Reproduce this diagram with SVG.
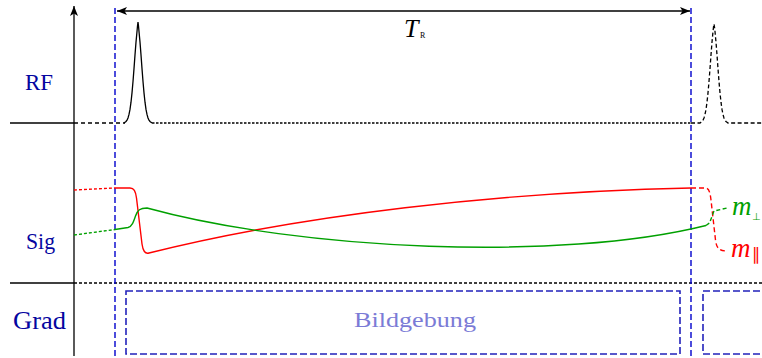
<svg xmlns="http://www.w3.org/2000/svg" width="762" height="358" viewBox="0 0 762 358">
<style>
.lbl{font-family:"Liberation Serif","DejaVu Serif",serif;fill:#0505a0}
.it{font-family:"Liberation Serif","DejaVu Serif",serif;font-style:italic}
.blk{fill:none;stroke:#000;stroke-width:1.3}
.vb{fill:none;stroke:#0000cc;stroke-width:1.4;stroke-dasharray:6,3}
.gr{fill:none;stroke:#2222bb;stroke-width:1.6;stroke-dasharray:7,3}
.red{fill:none;stroke:#ff0000;stroke-width:1.4}
.grn{fill:none;stroke:#00a000;stroke-width:1.4}
.bild{font-family:"Liberation Serif","DejaVu Serif",serif;fill:#7b7bd6}
.sym{font-family:"DejaVu Sans",sans-serif}
</style>
<defs>
<marker id="ah" viewBox="0 0 10 8" refX="10" refY="4" markerWidth="10" markerHeight="8" markerUnits="userSpaceOnUse" orient="auto-start-reverse">
<path d="M0,0 L10,4 L0,8 L2.5,4 Z" fill="#000"/>
</marker>
</defs>
<g id="labels">
<text class="lbl" x="25" y="90" font-size="23" textLength="28" lengthAdjust="spacingAndGlyphs">RF</text>
<text class="lbl" x="26" y="249" font-size="24" textLength="29" lengthAdjust="spacingAndGlyphs">Sig</text>
<text class="lbl" x="13" y="329" font-size="25" textLength="53" lengthAdjust="spacingAndGlyphs">Grad</text>
</g>
<g id="axis">
<line class="blk" x1="74" y1="356" x2="74" y2="6" marker-end="url(#ah)"/>
<line class="blk" x1="10" y1="123" x2="74" y2="123"/>
<line class="blk" x1="10" y1="283" x2="74" y2="283"/>
<line class="blk" x1="74" y1="283" x2="762" y2="283" stroke-dasharray="3,2"/>
</g>
<g id="tr">
<line class="blk" x1="117" y1="11" x2="690" y2="11" marker-start="url(#ah)" marker-end="url(#ah)"/>
<text class="it" x="404" y="37" font-size="26" fill="#000">T</text>
<text font-family="Liberation Serif,serif" x="420" y="38" font-size="8" fill="#000">R</text>
</g>
<g id="rf">
<line class="blk" x1="74" y1="123" x2="125" y2="123" stroke-dasharray="4,3"/>
<polyline class="blk" points="124,123 125,122.2 126,121.5 127,120.1 128,118 129,114.4 130,109.4 131,102.2 132,92.9 133,81.5 134,68.6 135,54.9 136,42.1 137,31.5 137.5,26 138,22 138.5,26 139,31.5 140,42.1 141,54.9 142,68.6 143,81.5 144,92.9 145,102.2 146,109.4 147,114.4 148,118 149,120.1 150,121.5 151,122.2 152,123"/>
<line class="blk" x1="152" y1="123" x2="691" y2="123" stroke-dasharray="2.5,1.5"/>
<polyline class="blk" stroke-dasharray="4,2.5" points="691,123 700,123 701,122.2 702,121.5 703,120.1 704,118 705,114.4 706,109.4 707,102.2 708,92.9 709,81.5 710,68.6 711,54.9 712,42.1 713,31.5 713.5,27 714,24 714.5,27 715,31.5 716,42.1 717,54.9 718,68.6 719,81.5 720,92.9 721,102.2 722,109.4 723,114.4 724,118 725,120.1 726,121.5 727,122.2 728,123 762,123"/>
</g>
<g id="vlines">
<line class="vb" x1="115" y1="8" x2="115" y2="358"/>
<line class="vb" x1="691" y1="8" x2="691" y2="358"/>
</g>
<g id="mpar">
<path class="red" d="M74,190 L115,188" stroke-dasharray="3,2"/>
<path class="red" d="M115,188 L130,188 C134,188 135.5,191 136.5,198 L142,244 C143,251 145,254 149,253 C300,215 500,192 691,188"/>
<path class="red" d="M691,188 L705,188 C709,188 710,192 711,200 L715.5,240 C716.5,248 719,251 727,251" stroke-dasharray="5,3"/>
<text class="it" x="731" y="257" font-size="27" fill="#ff0000">m</text>
<text class="sym" x="752" y="260" font-size="17" fill="#ff0000">∥</text>
</g>
<g id="mperp">
<path class="grn" d="M74,235 L115,229.5" stroke-dasharray="3,2"/>
<path class="grn" d="M115,229.5 L128,227.5 C132,226.5 133.5,222 135.5,216 C137.5,210 140,208 147,208 C300,250 560,262 706,225.5"/>
<path class="grn" d="M706,225.5 L709.5,223 L714,211 L727,208" stroke-dasharray="4,2.5"/>
<text class="it" x="732" y="215" font-size="27" fill="#00a000">m</text>
<text class="sym" x="752" y="220" font-size="10" fill="#00a000">⊥</text>
</g>
<g id="grad">
<rect class="gr" x="126" y="291" width="554" height="63"/>
<path class="gr" d="M770,291 L703,291 L703,354 L770,354"/>
<text class="bild" x="354" y="327" font-size="22" textLength="122" lengthAdjust="spacingAndGlyphs">Bildgebung</text>
</g>
</svg>
